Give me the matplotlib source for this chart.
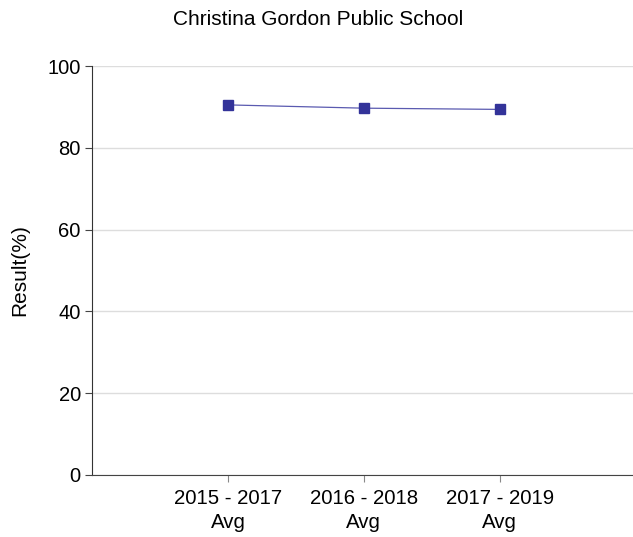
import matplotlib.pyplot as plt

plt.rcParams['font.family'] = ['Liberation Sans', 'DejaVu Sans']

categories = ['2015 - 2017\nAvg', '2016 - 2018\nAvg', '2017 - 2019\nAvg']
results = [90.5, 89.7, 89.4]
title = 'Christina Gordon Public School'

fig = plt.figure(figsize=(6.33, 5.37), dpi=100)
ax = fig.add_axes([0.1453, 0.1155, 0.8547, 0.7615])

x = range(1, len(categories) + 1)
ax.plot(x, results, '-', color='#5a5ab0', linewidth=0.9, zorder=3)
ax.plot(x, results, 's', color='#333399', markersize=7, zorder=4)

ax.set_xlim(0, 3.98)
ax.set_ylim(0, 100)
ax.set_yticks([0, 20, 40, 60, 80, 100])
ax.set_xticks(list(x))
ax.set_xticklabels(categories, fontsize=14.7, linespacing=1.35)
ax.tick_params(axis='y', labelsize=14.5, length=5, color='#444444', pad=3)
ax.tick_params(axis='x', length=5, color='#888888', pad=5)
ax.grid(True, axis='y', color='#dddddd', linewidth=1)
ax.set_axisbelow(True)

for s in ['top', 'right']:
    ax.spines[s].set_visible(False)
ax.spines['left'].set_color('#333333')
ax.spines['bottom'].set_color('#444444')

ax.set_ylabel('Result(%)', fontsize=15, labelpad=13)
fig.suptitle(title, fontsize=15, x=0.502, y=0.982)

plt.savefig('out.png', dpi=100)
